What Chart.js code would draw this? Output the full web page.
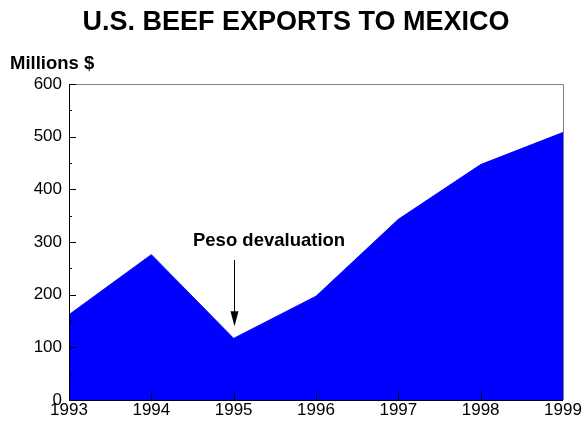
<!DOCTYPE html>
<html>
<head>
<meta charset="utf-8">
<script src="https://cdn.jsdelivr.net/npm/chart.js@4"></script>
<style>
  html, body { margin: 0; padding: 0; background: #fff; }
  #wrap { width: 584px; height: 422px; position: relative; }
</style>
</head>
<body>
<div id="wrap"><canvas id="beef-chart"></canvas></div>
<script>
// Chart data
const years = ['1993', '1994', '1995', '1996', '1997', '1998', '1999'];
const exportValues = [162, 276, 117, 197, 343, 447, 508];
const yTicks = [0, 100, 200, 300, 400, 500, 600];

const chartTitle = 'U.S. BEEF EXPORTS TO MEXICO';
const unitLabel = 'Millions $';
const noteText = 'Peso devaluation';

const FONT = "Arial, 'Liberation Sans', sans-serif";

// Draws title, frame, inward tick marks, unit label and the annotation
const decorPlugin = {
    id: 'decor',
    afterDatasetsDraw(chart) {
        const ctx = chart.ctx;
        const area = chart.chartArea;
        const xs = chart.scales.x;
        const ys = chart.scales.y;
        ctx.save();

        // top and right frame lines
        ctx.strokeStyle = '#808080';
        ctx.lineWidth = 1;
        ctx.beginPath();
        ctx.moveTo(area.left, area.top + 0.5);
        ctx.lineTo(area.right + 0.5, area.top + 0.5);
        ctx.lineTo(area.right + 0.5, area.bottom);
        ctx.stroke();

        // left and bottom axis lines
        ctx.strokeStyle = '#000';
        ctx.beginPath();
        ctx.moveTo(area.left + 0.5, area.top);
        ctx.lineTo(area.left + 0.5, area.bottom + 0.5);
        ctx.lineTo(area.right, area.bottom + 0.5);
        ctx.stroke();

        // y ticks, major and minor, pointing inward
        ctx.beginPath();
        for (let i = 0; i < yTicks.length; i++) {
            const py = Math.round(ys.getPixelForValue(yTicks[i])) + 0.5;
            ctx.moveTo(area.left, py);
            ctx.lineTo(area.left + 7, py);
            if (i < yTicks.length - 1) {
                const my = Math.round(ys.getPixelForValue((yTicks[i] + yTicks[i + 1]) / 2)) + 0.5;
                ctx.moveTo(area.left, my);
                ctx.lineTo(area.left + 3, my);
            }
        }
        // x ticks
        for (let i = 1; i < years.length - 1; i++) {
            const px = Math.round(xs.getPixelForValue(i)) + 0.5;
            ctx.moveTo(px, area.bottom);
            ctx.lineTo(px, area.bottom - 7);
        }
        ctx.stroke();

        // title
        ctx.fillStyle = '#000';
        ctx.textBaseline = 'middle';
        ctx.textAlign = 'center';
        ctx.font = 'bold 27px ' + FONT;
        ctx.fillText(chartTitle, 296, 23);

        // unit label
        ctx.font = 'bold 18.5px ' + FONT;
        ctx.textAlign = 'left';
        ctx.fillText(unitLabel, 10, 64);

        // annotation: text + arrow pointing at 1995
        const ax = Math.round(xs.getPixelForValue(2)) + 0.5;
        const yTop = ys.getPixelForValue(266);
        const yTip = ys.getPixelForValue(140);
        ctx.font = 'bold 18.5px ' + FONT;
        ctx.textAlign = 'center';
        ctx.fillText(noteText, xs.getPixelForValue(2.43), ys.getPixelForValue(302));
        ctx.beginPath();
        ctx.moveTo(ax, yTop);
        ctx.lineTo(ax, yTip - 10);
        ctx.stroke();
        ctx.beginPath();
        ctx.moveTo(ax, yTip);
        ctx.lineTo(ax - 4, yTip - 15);
        ctx.lineTo(ax + 4, yTip - 15);
        ctx.closePath();
        ctx.fill();

        ctx.restore();
    }
};

const ctx = document.getElementById('beef-chart').getContext('2d');
const beefChart = new Chart(ctx, {
    type: 'line',
    data: {
        labels: years,
        datasets: [{
            data: exportValues,
            fill: 'origin',
            backgroundColor: '#0000ff',
            borderColor: '#0000ff',
            borderWidth: 1,
            pointRadius: 0,
            tension: 0
        }]
    },
    options: {
        responsive: true,
        maintainAspectRatio: false,
        animation: false,
        events: [],
        layout: {
            padding: { top: 84, right: 21, left: 0, bottom: 0 }
        },
        plugins: {
            legend: { display: false },
            tooltip: { enabled: false },
            title: { display: false }
        },
        scales: {
            x: {
                offset: false,
                grid: { display: false, drawTicks: false },
                border: { display: false },
                ticks: {
                    color: '#000',
                    font: { family: FONT, size: 17 },
                    padding: 0,
                    maxRotation: 0,
                    autoSkip: false
                },
                afterFit(scale) { scale.height = 22; }
            },
            y: {
                min: 0,
                max: 600,
                grid: { display: false, drawTicks: false },
                border: { display: false },
                ticks: {
                    stepSize: 100,
                    color: '#000',
                    font: { family: FONT, size: 17 },
                    padding: 7
                },
                afterFit(scale) { scale.width = 69; }
            }
        }
    },
    plugins: [decorPlugin]
});
</script>
</body>
</html>
